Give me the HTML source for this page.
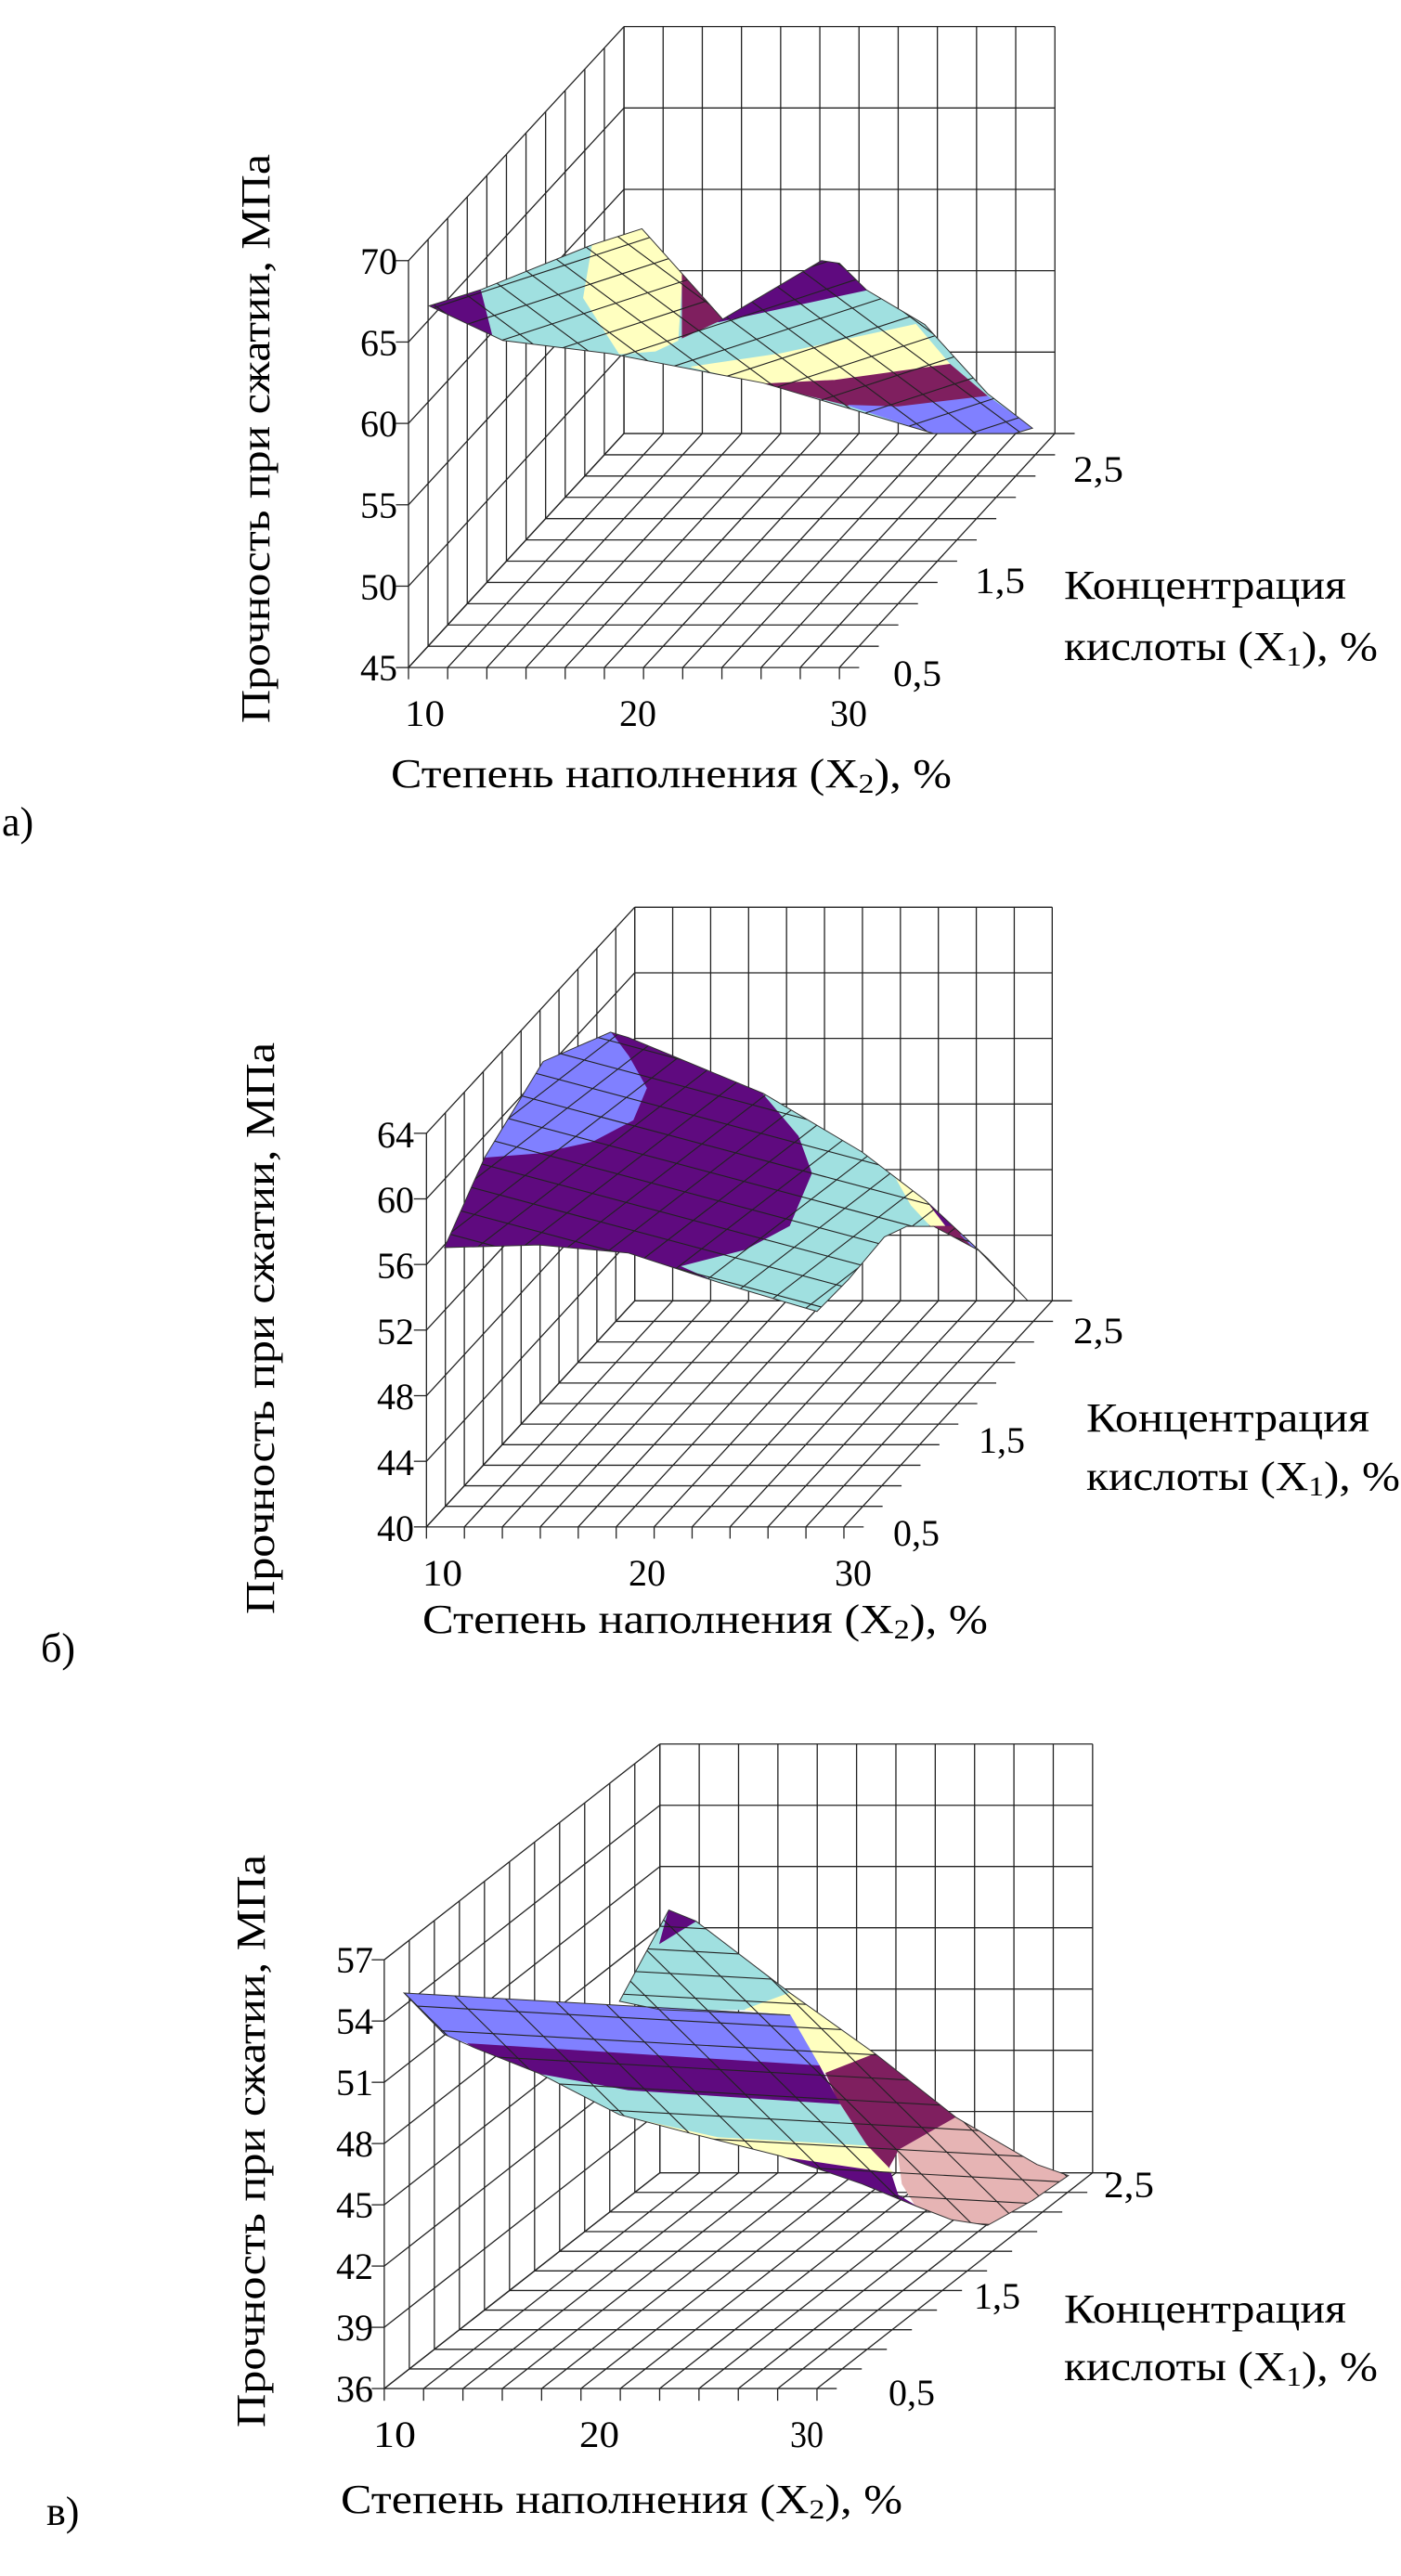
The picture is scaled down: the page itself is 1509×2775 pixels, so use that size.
<!DOCTYPE html>
<html><head><meta charset="utf-8">
<style>
html,body{margin:0;padding:0;background:#fff;width:1509px;height:2775px;overflow:hidden;}
svg{display:block;}
text{font-family:"Liberation Serif","DejaVu Serif",serif;fill:#000;}
</style></head>
<body>
<svg id="s" xmlns="http://www.w3.org/2000/svg" width="1509" height="2775" viewBox="0 0 1509 2775" overflow="hidden">
<rect width="1509" height="2775" fill="#fff"/>
<g id="ga" transform="translate(0,0) scale(0.967,0.573)"></g>
<g id="gb" transform="translate(0,920) scale(0.967,0.573)"></g>
<g id="gc" transform="translate(0,1840) scale(0.967,0.596)"></g>

<g font-size="40">
<text x="428" y="295" text-anchor="end">70</text>
<text x="428" y="383" text-anchor="end">65</text>
<text x="428" y="470" text-anchor="end">60</text>
<text x="428" y="558" text-anchor="end">55</text>
<text x="428" y="646" text-anchor="end">50</text>
<text x="428" y="733" text-anchor="end">45</text>
<text x="436" y="782" textLength="43" lengthAdjust="spacingAndGlyphs">10</text>
<text x="667" y="782" textLength="40" lengthAdjust="spacingAndGlyphs">20</text>
<text x="894" y="782" textLength="40" lengthAdjust="spacingAndGlyphs">30</text>
<text x="1156" y="519" textLength="54" lengthAdjust="spacingAndGlyphs">2,5</text>
<text x="1050" y="639" textLength="54" lengthAdjust="spacingAndGlyphs">1,5</text>
<text x="962" y="739" textLength="52" lengthAdjust="spacingAndGlyphs">0,5</text>
</g>
<g font-size="44">
<text x="1146" y="645" textLength="304" lengthAdjust="spacingAndGlyphs">Концентрация</text>
<text x="1146" y="711" textLength="338" lengthAdjust="spacingAndGlyphs">кислоты (X<tspan font-size="30" dy="6">1</tspan><tspan dy="-6">), %</tspan></text>
<text x="421" y="848" textLength="604" lengthAdjust="spacingAndGlyphs">Степень наполнения (X<tspan font-size="30" dy="6">2</tspan><tspan dy="-6">), %</tspan></text>
<text transform="translate(290,779) rotate(-90)" textLength="613" lengthAdjust="spacingAndGlyphs">Прочность при сжатии, МПа</text>
<text x="2" y="900">а)</text>
</g>

<g font-size="40">
<text x="446" y="1236" text-anchor="end">64</text>
<text x="446" y="1306" text-anchor="end">60</text>
<text x="446" y="1377" text-anchor="end">56</text>
<text x="446" y="1448" text-anchor="end">52</text>
<text x="446" y="1518" text-anchor="end">48</text>
<text x="446" y="1589" text-anchor="end">44</text>
<text x="446" y="1660" text-anchor="end">40</text>
<text x="455" y="1708" textLength="43" lengthAdjust="spacingAndGlyphs">10</text>
<text x="677" y="1708" textLength="40" lengthAdjust="spacingAndGlyphs">20</text>
<text x="899" y="1708" textLength="40" lengthAdjust="spacingAndGlyphs">30</text>
<text x="1156" y="1447" textLength="54" lengthAdjust="spacingAndGlyphs">2,5</text>
<text x="1054" y="1565" textLength="50" lengthAdjust="spacingAndGlyphs">1,5</text>
<text x="962" y="1665" textLength="50" lengthAdjust="spacingAndGlyphs">0,5</text>
</g>
<g font-size="44">
<text x="1170" y="1542" textLength="305" lengthAdjust="spacingAndGlyphs">Концентрация</text>
<text x="1170" y="1605" textLength="338" lengthAdjust="spacingAndGlyphs">кислоты (X<tspan font-size="30" dy="6">1</tspan><tspan dy="-6">), %</tspan></text>
<text x="455" y="1759" textLength="609" lengthAdjust="spacingAndGlyphs">Степень наполнения (X<tspan font-size="30" dy="6">2</tspan><tspan dy="-6">), %</tspan></text>
<text transform="translate(295,1739) rotate(-90)" textLength="616" lengthAdjust="spacingAndGlyphs">Прочность при сжатии, МПа</text>
<text x="44" y="1790">б)</text>
</g>

<g font-size="40">
<text x="402" y="2125" text-anchor="end">57</text>
<text x="402" y="2191" text-anchor="end">54</text>
<text x="402" y="2257" text-anchor="end">51</text>
<text x="402" y="2323" text-anchor="end">48</text>
<text x="402" y="2389" text-anchor="end">45</text>
<text x="402" y="2455" text-anchor="end">42</text>
<text x="402" y="2521" text-anchor="end">39</text>
<text x="402" y="2587" text-anchor="end">36</text>
<text x="402" y="2636" textLength="46" lengthAdjust="spacingAndGlyphs">10</text>
<text x="624" y="2636" textLength="43" lengthAdjust="spacingAndGlyphs">20</text>
<text x="851" y="2636" textLength="36" lengthAdjust="spacingAndGlyphs">30</text>
<text x="1189" y="2367" textLength="54" lengthAdjust="spacingAndGlyphs">2,5</text>
<text x="1049" y="2487" textLength="50" lengthAdjust="spacingAndGlyphs">1,5</text>
<text x="957" y="2591" textLength="50" lengthAdjust="spacingAndGlyphs">0,5</text>
</g>
<g font-size="44">
<text x="1146" y="2502" textLength="304" lengthAdjust="spacingAndGlyphs">Концентрация</text>
<text x="1146" y="2564" textLength="338" lengthAdjust="spacingAndGlyphs">кислоты (X<tspan font-size="30" dy="6">1</tspan><tspan dy="-6">), %</tspan></text>
<text x="367" y="2707" textLength="605" lengthAdjust="spacingAndGlyphs">Степень наполнения (X<tspan font-size="30" dy="6">2</tspan><tspan dy="-6">), %</tspan></text>
<text transform="translate(285,2615) rotate(-90)" textLength="617" lengthAdjust="spacingAndGlyphs">Прочность при сжатии, МПа</text>
<text x="50" y="2720">в)</text>
</g>
</svg>
<script>
var NS="http://www.w3.org/2000/svg";
function el(g,tag,a){var e=document.createElementNS(NS,tag);for(var k in a)e.setAttribute(k,a[k]);g.appendChild(e);return e;}
function ln(g,x1,y1,x2,y2,w){el(g,"line",{x1:x1,y1:y1,x2:x2,y2:y2,stroke:"#222","stroke-width":w||1.3,"vector-effect":"non-scaling-stroke"});}
function P(F,X,D,H,u,v,w){return [F[0]+X[0]*u+D[0]*v+H[0]*w, F[1]+X[1]*u+D[1]*v+H[1]*w];}
function grid(id,F,X,D,H,nh){
 var g=document.getElementById(id);var nx=11,nd=11,i,a,b;
 for(i=0;i<=nh;i++){a=P(F,X,D,H,0,1,i/nh);b=P(F,X,D,H,1,1,i/nh);ln(g,a[0],a[1],b[0],b[1]);}
 for(i=0;i<=nx;i++){a=P(F,X,D,H,i/nx,1,0);b=P(F,X,D,H,i/nx,1,1);ln(g,a[0],a[1],b[0],b[1]);}
 for(i=0;i<=nh;i++){a=P(F,X,D,H,0,0,i/nh);b=P(F,X,D,H,0,1,i/nh);ln(g,a[0],a[1],b[0],b[1]);}
 for(i=0;i<=nd;i++){a=P(F,X,D,H,0,i/nd,0);b=P(F,X,D,H,0,i/nd,1);ln(g,a[0],a[1],b[0],b[1]);}
 for(i=0;i<=nd;i++){a=P(F,X,D,H,0,i/nd,0);b=P(F,X,D,H,1,i/nd,0);ln(g,a[0],a[1],b[0],b[1]);}
 for(i=0;i<=nx;i++){a=P(F,X,D,H,i/nx,0,0);b=P(F,X,D,H,i/nx,1,0);ln(g,a[0],a[1],b[0],b[1]);}
 for(i=0;i<=nh;i++){a=P(F,X,D,H,0,0,i/nh);ln(g,a[0]-14,a[1],a[0],a[1]);}
 for(i=0;i<=nx;i++){a=P(F,X,D,H,i/nx,0,0);ln(g,a[0],a[1],a[0],a[1]+22);}
 for(i=0;i<=nd;i++){a=P(F,X,D,H,1,i/nd,0);ln(g,a[0],a[1],a[0]+22,a[1]);}
 a=P(F,X,D,H,1,1,0);ln(g,a[0],a[1],a[0]+22,a[1]);
}
grid("ga",[455,1255],[480,0],[240,-440],[0,-765],5);
grid("gb",[475,1265],[465,0],[232,-425],[0,-740],6);
grid("gc",[428,1230],[482,0],[307,-390],[0,-775],7);

var C={p:"#5f0a7f",c:"#a0e0e0",y:"#ffffc0",m:"#7f1f5f",b:"#8080ff",k:"#e6b4b4"};
var cid=0;
function surf(id,outline,polys,dirs){
 var g=document.getElementById(id);
 var pts=outline.split(" ").map(function(s){return s.split(",").map(Number);});
 var x0=1e9,x1=-1e9,y0=1e9,y1=-1e9;
 pts.forEach(function(p){x0=Math.min(x0,p[0]);x1=Math.max(x1,p[0]);y0=Math.min(y0,p[1]);y1=Math.max(y1,p[1]);});
 var mx=(x0+x1)/2,my=(y0+y1)/2,R=Math.hypot(x1-x0,y1-y0)/2;
 cid++;var cp=el(g,"clipPath",{id:"cl"+cid});el(cp,"polygon",{points:outline});
 var sg=el(g,"g",{"clip-path":"url(#cl"+cid+")"});
 polys.forEach(function(p){el(sg,"polygon",{points:p[1],fill:C[p[0]],stroke:C[p[0]],"stroke-width":1,"vector-effect":"non-scaling-stroke"});});
 dirs.forEach(function(d){
  for(var t=-R;t<R;t+=d[2]){
   var cx=mx+d[1]*t, cy=my-d[0]*t;
   var h=Math.sqrt(Math.max(R*R-t*t,0));
   ln(sg,cx-d[0]*h,cy-d[1]*h,cx+d[0]*h,cy+d[1]*h,1.1);
  }
 });
 el(g,"polygon",{points:outline,fill:"none",stroke:"#333","stroke-width":1,"vector-effect":"non-scaling-stroke"});
}
function nrm(x,y,s){var l=Math.hypot(x,y);return [x/l,y/l,s];}
surf("ga",
"478,575 535,545 660,460 715,430 760,515 805,600 915,490 935,495 965,545 1030,610 1100,740 1150,805 1130,815 1040,815 950,770 850,720 680,665 560,640",
[["c","478,575 535,545 660,460 715,430 760,515 805,600 965,545 1030,610 1100,740 1150,805 1130,815 1040,815 950,770 850,720 680,665 560,640"],
 ["p","478,575 535,545 548,632 520,615"],
 ["y","660,460 715,430 760,515 755,640 730,660 690,665 650,560"],
 ["m","760,515 805,600 760,635"],
 ["p","800,605 915,490 935,495 965,545"],
 ["y","770,690 870,665 1020,610 1058,685 930,715 850,722"],
 ["m","850,722 930,715 1058,685 1100,745 1000,765 945,762"],
 ["b","945,762 1000,765 1100,745 1150,805 1130,815 1040,815"]],
[nrm(1,-0.55,45),nrm(1,1.25,40)]);
surf("gb",
"495,740 540,570 605,390 680,335 700,345 850,450 960,560 1030,650 1100,760 1145,840 1090,745 1040,700 1010,700 985,720 945,800 910,860 800,805 700,750 600,735",
[["p","495,740 540,570 605,390 680,335 700,345 850,450 960,560 1030,650 1100,760 1145,840 1090,745 1040,700 1010,700 985,720 945,800 910,860 800,805 700,750 600,735"],
 ["b","540,570 580,420 640,345 680,335 700,380 720,440 705,500 660,540 600,562"],
 ["c","760,775 830,745 880,700 905,600 890,530 850,450 960,560 1000,610 1020,650 1035,700 985,720 945,800 910,860 800,805"],
 ["y","995,600 1030,650 1055,705 1040,705 1015,660"],
 ["m","1040,700 1065,700 1100,760 1085,745"],
 ["b","1070,715 1100,760 1145,840 1110,785"]],
[nrm(1,0.45,45),nrm(1,-1.3,40)]);
surf("gc",
"745,365 775,385 880,515 975,625 1065,740 1155,825 1190,845 1150,890 1100,935 1060,925 1020,900 990,880 960,860 870,810 760,765 690,735 600,660 530,615 495,590 450,515 880,555 735,545 690,530",
[["c","745,365 775,385 880,515 830,545 735,545 690,530"],
 ["p","745,365 775,385 735,425"],
 ["y","830,545 880,515 975,625 920,660 910,640 880,555"],
 ["m","920,660 975,625 1065,740 1000,800 990,830 965,790 935,715"],
 ["k","1000,800 1065,740 1155,825 1190,845 1150,890 1100,935 1060,925 1020,900 1005,860"],
 ["p","870,810 990,830 1000,880 1020,900 960,860"],
 ["y","690,735 800,775 965,790 995,840 870,810 760,765"],
 ["c","600,660 700,690 935,715 965,790 800,775 690,735"],
 ["p","520,605 912,645 935,715 700,690 600,660 530,615"],
 ["b","450,515 880,555 912,645 520,605 495,590"]],
[nrm(1,0.09,42),nrm(1,1.6,45)]);
</script>
</body></html>
